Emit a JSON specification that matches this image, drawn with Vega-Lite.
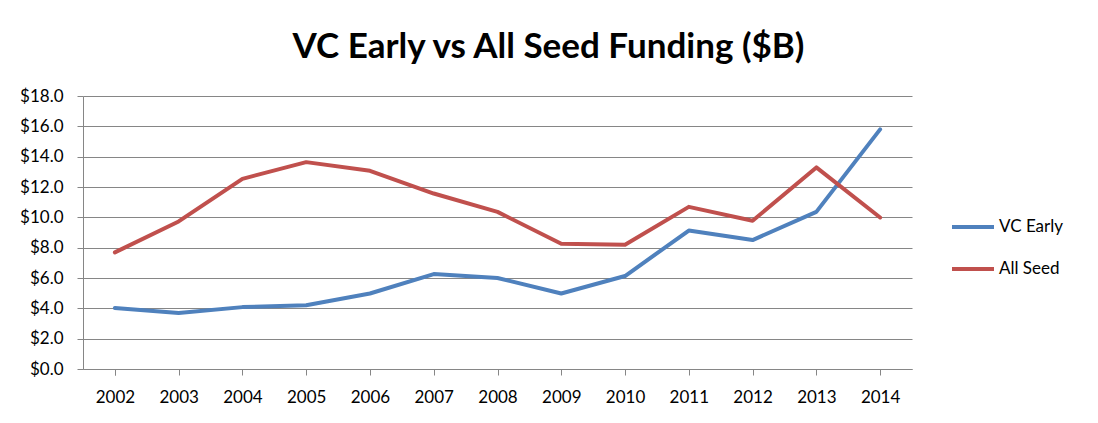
{
  "$schema": "https://vega.github.io/schema/vega-lite/v6.json",
  "autosize": {"type": "none"},
  "padding": {"left": 83, "top": 96, "right": 186, "bottom": 54},
  "width": 829,
  "height": 273,
  "background": "white",
  "title": {
    "text": "VC Early vs All Seed Funding ($B)",
    "font": "Lato",
    "fontSize": 35,
    "fontWeight": "bold",
    "color": "#000000",
    "anchor": "middle",
    "dx": 51,
    "offset": 22
  },
  "data": {
    "values": [
      {"year": "2002", "series": "VC Early", "value": 4.02},
      {"year": "2003", "series": "VC Early", "value": 3.69},
      {"year": "2004", "series": "VC Early", "value": 4.08},
      {"year": "2005", "series": "VC Early", "value": 4.2},
      {"year": "2006", "series": "VC Early", "value": 4.98},
      {"year": "2007", "series": "VC Early", "value": 6.26},
      {"year": "2008", "series": "VC Early", "value": 6.0},
      {"year": "2009", "series": "VC Early", "value": 4.98},
      {"year": "2010", "series": "VC Early", "value": 6.13},
      {"year": "2011", "series": "VC Early", "value": 9.13},
      {"year": "2012", "series": "VC Early", "value": 8.5},
      {"year": "2013", "series": "VC Early", "value": 10.36},
      {"year": "2014", "series": "VC Early", "value": 15.8},
      {"year": "2002", "series": "All Seed", "value": 7.69},
      {"year": "2003", "series": "All Seed", "value": 9.73},
      {"year": "2004", "series": "All Seed", "value": 12.54},
      {"year": "2005", "series": "All Seed", "value": 13.64},
      {"year": "2006", "series": "All Seed", "value": 13.07},
      {"year": "2007", "series": "All Seed", "value": 11.57},
      {"year": "2008", "series": "All Seed", "value": 10.36},
      {"year": "2009", "series": "All Seed", "value": 8.26},
      {"year": "2010", "series": "All Seed", "value": 8.19},
      {"year": "2011", "series": "All Seed", "value": 10.69},
      {"year": "2012", "series": "All Seed", "value": 9.77},
      {"year": "2013", "series": "All Seed", "value": 13.29},
      {"year": "2014", "series": "All Seed", "value": 9.99}
    ]
  },
  "mark": {"type": "line", "strokeWidth": 4, "strokeCap": "round", "strokeJoin": "round"},
  "encoding": {
    "x": {
      "field": "year",
      "type": "ordinal",
      "scale": {"type": "point", "padding": 0.5},
      "axis": {
        "title": null,
        "labelAngle": 0,
        "labelFont": "Lato",
        "labelFontSize": 17,
        "labelColor": "#000000",
        "labelPadding": 14,
        "tickBand": "extent",
        "tickSize": 6,
        "tickColor": "#868686",
        "domainColor": "#868686",
        "grid": false
      }
    },
    "y": {
      "field": "value",
      "type": "quantitative",
      "scale": {"domain": [0, 18], "nice": false},
      "axis": {
        "title": null,
        "values": [0, 2, 4, 6, 8, 10, 12, 14, 16, 18],
        "labelExpr": "'$' + format(datum.value, '.1f')",
        "labelFont": "Lato",
        "labelFontSize": 17,
        "labelColor": "#000000",
        "labelPadding": 14,
        "tickSize": 6,
        "tickColor": "#868686",
        "domainColor": "#868686",
        "gridColor": "#868686",
        "gridWidth": 1
      }
    },
    "color": {
      "field": "series",
      "type": "nominal",
      "scale": {"domain": ["VC Early", "All Seed"], "range": ["#4F81BD", "#C0504D"]},
      "legend": {
        "title": null,
        "orient": "none",
        "legendX": 867,
        "legendY": 108,
        "symbolType": "stroke",
        "symbolSize": 1764,
        "symbolStrokeWidth": 4,
        "labelFont": "Lato",
        "labelFontSize": 17,
        "labelColor": "#000000",
        "labelOffset": 3,
        "rowPadding": 11
      }
    }
  },
  "config": {"view": {"stroke": null}}
}
